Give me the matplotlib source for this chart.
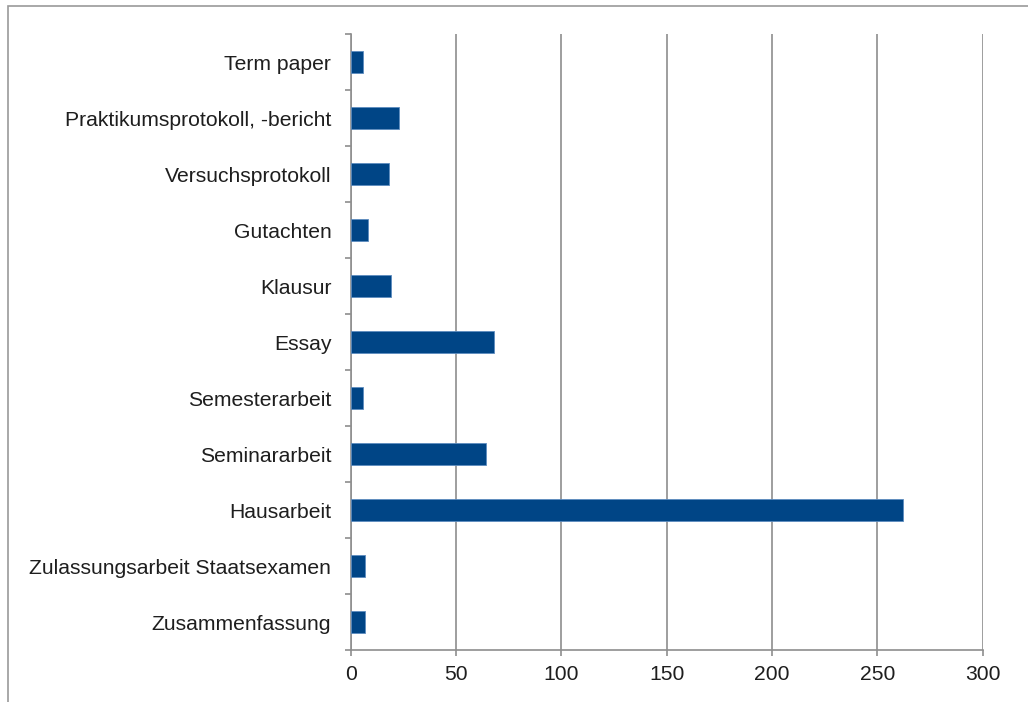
import matplotlib.pyplot as plt
import matplotlib.patches as patches
import numpy as np

# categories top to bottom, counts
categories = [
    "Term paper",
    "Praktikumsprotokoll, -bericht",
    "Versuchsprotokoll",
    "Gutachten",
    "Klausur",
    "Essay",
    "Semesterarbeit",
    "Seminararbeit",
    "Hausarbeit",
    "Zulassungsarbeit Staatsexamen",
    "Zusammenfassung",
]
counts = [6, 23, 18, 8, 19, 68, 6, 64, 262, 7, 7]
x_ticks = [0, 50, 100, 150, 200, 250, 300]

plt.rcParams["font.family"] = ["Liberation Sans", "DejaVu Sans"]

fig = plt.figure(figsize=(10.28, 7.02), dpi=100)
ax = fig.add_axes([350.7 / 1028, 1 - 650 / 702, (982.7 - 350.7) / 1028, (650 - 34) / 702])

grid_color = "#8e8e8e"
text_color = "#1e1e1e"

y = np.arange(len(categories))
ax.barh(y, counts, height=0.4, color="#004586", edgecolor="#5d8cbf", linewidth=0.6, zorder=3)

ax.set_xlim(0, 300)
ax.set_ylim(len(categories) - 0.5, -0.5)

ax.set_xticks(x_ticks)
ax.set_xticklabels([str(t) for t in x_ticks], fontsize=15.2, color=text_color)
ax.set_yticks(y)
ax.set_yticklabels(categories, fontsize=15.2, color=text_color)
ax.set_yticks(np.arange(-0.5, len(categories)), minor=True)

ax.tick_params(axis="y", which="major", length=0, pad=14)
ax.tick_params(axis="y", which="minor", length=4.5, width=1.2, color=grid_color, direction="out")
ax.tick_params(axis="x", which="major", length=4.5, width=1.2, color=grid_color, direction="out", pad=6)

ax.grid(axis="x", color=grid_color, linewidth=1.2, zorder=0)
ax.set_axisbelow(True)

for side in ["top", "right"]:
    ax.spines[side].set_visible(False)
for side in ["left", "bottom"]:
    ax.spines[side].set_color(grid_color)
    ax.spines[side].set_linewidth(1.2)

# outer chart frame
frame = patches.Rectangle((8 / 1028, -0.1), 1.2, 1 - 6 / 702 + 0.1, transform=fig.transFigure,
                          fill=False, edgecolor="#9a9a9a", linewidth=1.2, clip_on=False)
fig.add_artist(frame)

fig.savefig("out.png", dpi=100)
